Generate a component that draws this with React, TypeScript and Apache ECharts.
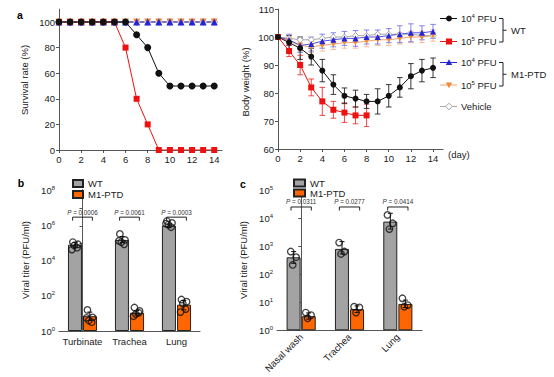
import { useEffect, useRef } from 'react';
import * as echarts from 'echarts';

const FONT = '"Liberation Sans", Arial, Helvetica, sans-serif';
const TXT = '#1a1a1a';
const AX = '#444';

// ---------- Panel a (left): survival ----------
const days = [0, 1, 2, 3, 4, 5, 6, 7, 8, 9, 10, 11, 12, 13, 14];
const dayTicks = [0, 2, 4, 6, 8, 10, 12, 14];
const survTicks = [0, 20, 40, 60, 80, 100];
const survWT4 = [100, 100, 100, 100, 100, 100, 100, 90, 80, 60, 50, 50, 50, 50, 50];
const survWT5 = [100, 100, 100, 100, 100, 100, 80, 40, 20, 0, 0, 0, 0, 0, 0];
const survM14 = [100, 100, 100, 100, 100, 100, 100, 100, 100, 100, 100, 100, 100, 100, 100];
const survM15 = [100, 100, 100, 100, 100, 100, 100, 100, 100, 100, 100, 100, 100, 100, 100];
const survVeh = [100, 100, 100, 100, 100, 100, 100, 100, 100, 100, 100, 100, 100, 100, 100];

// ---------- Panel a (right): body weight ----------
const bwWT4 = [100, 98, 96, 93, 88, 83, 79, 78, 77, 77, 79, 82, 86, 88, 89];
const bwWT4Err = [0, 2.5, 4, 3, 4, 3.5, 2.8, 3, 2.5, 4.5, 4, 3.5, 4.5, 4, 3.5];
const bwWT5 = [100, 95, 90, 82, 77, 74, 73, 72, 72];
const bwWT5Err = [0, 2, 3.5, 3, 5, 3, 3.5, 3, 4];
const bwM14 = [100, 99, 97, 97.5, 98.5, 99, 99.5, 99.5, 100, 100, 100.5, 101, 101.5, 101.5, 102];
const bwM14Err = [0, 2, 2.5, 2.5, 2.5, 2.5, 2.5, 2.8, 2.5, 2.5, 2.5, 3, 3.2, 2.5, 2.5];
const bwM15 = [100, 98.5, 97, 96.5, 97, 97.5, 98, 98, 98.5, 99, 99, 99.5, 100, 100, 100.5];
const bwM15Err = [0, 1.5, 2, 2, 2, 2, 2, 2, 2, 2, 2, 2, 2, 2, 2];
const bwVeh = [100, 99.5, 99, 99, 99.5, 100, 100, 100.5, 100.5, 101, 101, 101, 101, 100.5, 100.5];

// ---------- Panel b ----------
const bCats = ['Turbinate', 'Trachea', 'Lung'];
const bWT = [85000, 160000, 1050000];
const bWTLo = [60000, 115000, 800000];
const bWTHi = [115000, 250000, 1300000];
const bM1 = [7, 11, 32];
const bM1Lo = [4, 8, 16];
const bM1Hi = [12, 15, 55];
const bWTPts = [
  [120000, 90000, 78000, 58000, 45000],
  [350000, 160000, 120000, 90000, 140000],
  [1900000, 1500000, 1200000, 850000, 1350000],
];
const bM1Pts = [
  [16, 6, 4, 3.2, 5.6],
  [22, 14, 9.3, 11, 7],
  [63, 47, 37, 18, 12],
];
const bP = ['0.0006', '0.0061', '0.0003'];
const bBracket = 3200000;
const bMax = 120000000;
const bLabelVals = [1, 100, 10000, 1000000, 100000000];
const bTickVals = [1, 10, 100, 1000, 10000, 100000, 1000000, 10000000, 100000000];

// ---------- Panel c ----------
const cCats = ['Nasal wash', 'Trachea', 'Lung'];
const cWT = [410, 820, 7800];
const cWTLo = [250, 540, 4200];
const cWTHi = [660, 1500, 15500];
const cM1 = [3.2, 5.7, 8.8];
const cM1Lo = [2.5, 4.3, 6.5];
const cM1Hi = [4.2, 7.5, 12];
const cWTPts = [
  [660, 415, 220],
  [1380, 660, 540],
  [13500, 6800, 4200],
];
const cM1Pts = [
  [4.3, 3.5, 2.7],
  [7, 6.6, 4.3],
  [14, 8, 7],
];
const cP = ['0.0311', '0.0277', '0.0414'];
const cBracket = 26000;
const cMax = 110000;
const cTickVals = [1, 10, 100, 1000, 10000, 100000];

const jit5 = [-0.05, 0.06, -0.02, 0.04, -0.07];
const jit3 = [-0.06, 0.05, -0.02];
const OFF = 0.155;

const pairs = (ys: number[]) => ys.map((y, i) => [days[i], y]);
const errData = (ys: number[], es: number[]) =>
  ys.map((y, i) => [days[i], y - es[i], y + es[i]]).filter((_d, i) => es[i] > 0);

const errRender = (color: string, cap: number, lw: number) => (_p: any, api: any) => {
  const x = api.value(0);
  const lo = api.coord([x, api.value(1)]);
  const hi = api.coord([x, api.value(2)]);
  const st = { stroke: color, lineWidth: lw };
  return {
    type: 'group',
    children: [
      { type: 'line', shape: { x1: lo[0], y1: lo[1], x2: hi[0], y2: hi[1] }, style: st },
      { type: 'line', shape: { x1: hi[0] - cap, y1: hi[1], x2: hi[0] + cap, y2: hi[1] }, style: st },
      { type: 'line', shape: { x1: lo[0] - cap, y1: lo[1], x2: lo[0] + cap, y2: lo[1] }, style: st },
    ],
  };
};

const bracketRender = (pvals: string[]) => (params: any, api: any) => {
  const i = api.value(0);
  const a = api.coord([i - 0.21, api.value(1)]);
  const b = api.coord([i + 0.21, api.value(1)]);
  return {
    type: 'group',
    children: [
      {
        type: 'polyline',
        shape: { points: [[a[0], a[1] + 3.5], [a[0], a[1]], [b[0], b[1]], [b[0], b[1] + 3.5]] },
        style: { stroke: '#222', lineWidth: 1, fill: 'none' },
      },
      {
        type: 'text',
        x: (a[0] + b[0]) / 2,
        y: a[1] - 2,
        style: {
          text: '{i|P} = ' + pvals[params.dataIndex],
          rich: { i: { fontStyle: 'italic', fontSize: 6.3, fontFamily: FONT, fill: '#333' } },
          fontSize: 6.3,
          fontFamily: FONT,
          fill: '#333',
          align: 'center',
          verticalAlign: 'bottom',
        },
      },
    ],
  };
};

const supRich = { s: { fontSize: 6, lineHeight: 6, verticalAlign: 'top', fontFamily: FONT, color: TXT } };
const logFmt = (v: number) => '10{s|' + Math.round(Math.log10(v)) + '}';

const axLine = { show: true, lineStyle: { color: AX, width: 0.9 } };
const axTick = { show: true, length: 3, lineStyle: { color: AX, width: 0.9 } };
const axLabel = { color: TXT, fontSize: 9.5, fontFamily: FONT, margin: 4 };

export default function App() {
  const ref = useRef<HTMLDivElement>(null);
  useEffect(() => {
    if (!ref.current) return;
    const chart = echarts.init(ref.current, undefined, { renderer: 'svg' });

    const dayLines = (data: number[], name: string, color: string, symbol: string, size: number, rotate = 0, xi = 0, lineColor?: string, fill?: string) => ({
      type: 'line',
      name,
      xAxisIndex: xi,
      yAxisIndex: xi,
      data: pairs(data),
      symbol,
      symbolSize: size,
      symbolRotate: rotate,
      showAllSymbol: true,
      lineStyle: { color: lineColor || color, width: 1 },
      itemStyle: fill ? { color: fill, borderColor: color, borderWidth: 1 } : { color, borderWidth: 0 },
      emphasis: { disabled: true },
      z: 3,
    });

    const errSeries = (ys: number[], es: number[], color: string) => ({
      type: 'custom',
      xAxisIndex: 1,
      yAxisIndex: 1,
      data: errData(ys, es),
      renderItem: errRender(color, 2.8, 0.9),
      z: 2,
      silent: true,
    });

    const barSeries = (name: string, data: number[], color: string, xi: number, yi: number) => ({
      type: 'bar',
      name,
      xAxisIndex: xi,
      yAxisIndex: yi,
      data,
      barWidth: 14,
      barGap: '8%',
      itemStyle: { color, borderColor: '#222', borderWidth: 1 },
      emphasis: { disabled: true },
      z: 2,
    });

    const barErr = (lo: number[], hi: number[], off: number, xi: number, yi: number) => ({
      type: 'custom',
      xAxisIndex: xi,
      yAxisIndex: yi,
      data: lo.map((l, i) => [i + off, l, hi[i]]),
      renderItem: errRender('#111', 2.5, 1),
      z: 3,
      silent: true,
    });

    const pts = (vals: number[][], off: number, jit: number[], xi: number, yi: number) => ({
      type: 'scatter',
      xAxisIndex: xi,
      yAxisIndex: yi,
      data: vals.flatMap((row, i) => row.map((v, k) => [i + off + jit[k], v])),
      symbol: 'circle',
      symbolSize: 6.5,
      itemStyle: { color: 'rgba(0,0,0,0)', borderColor: '#111', borderWidth: 1.3 },
      emphasis: { disabled: true },
      z: 4,
      silent: true,
    });

    const brackets = (pv: string[], level: number, xi: number, yi: number) => ({
      type: 'custom',
      xAxisIndex: xi,
      yAxisIndex: yi,
      data: pv.map((_p, i) => [i, level]),
      renderItem: bracketRender(pv),
      z: 5,
      silent: true,
    });

    // legend graphic for panel a right
    const LX = 440;
    const rowsY = [18.5, 41.5, 62.5, 85, 106.5];
    const legColors = ['#111', '#ee1111', '#2424d8', '#f2a46c', '#a8a8a8'];
    const marker = (k: number, y: number): any => {
      const cx = LX + 9;
      const c = legColors[k];
      if (k === 0) return { type: 'circle', shape: { cx, cy: y, r: 3 }, style: { fill: c } };
      if (k === 1) return { type: 'rect', shape: { x: cx - 3, y: y - 3, width: 6, height: 6 }, style: { fill: c } };
      if (k === 2) return { type: 'polygon', shape: { points: [[cx, y - 3.2], [cx + 3.2, y + 2.4], [cx - 3.2, y + 2.4]] }, style: { fill: c } };
      if (k === 3) return { type: 'polygon', shape: { points: [[cx, y + 3.2], [cx + 3.2, y - 2.4], [cx - 3.2, y - 2.4]] }, style: { fill: '#f08a3c' } };
      return { type: 'polygon', shape: { points: [[cx, y - 3.3], [cx + 3.3, y], [cx, y + 3.3], [cx - 3.3, y]] }, style: { fill: '#fff', stroke: c, lineWidth: 1 } };
    };
    const legTexts = ['10{s|4} PFU', '10{s|5} PFU', '10{s|4} PFU', '10{s|5} PFU', 'Vehicle'];
    const legendEls: any[] = [];
    rowsY.forEach((y, k) => {
      legendEls.push({ type: 'line', shape: { x1: LX, y1: y, x2: LX + 17, y2: y }, style: { stroke: legColors[k], lineWidth: 1 } });
      legendEls.push(marker(k, y));
      legendEls.push({
        type: 'text', x: LX + 21, y,
        style: { text: legTexts[k], rich: supRich, fontSize: 9.5, lineHeight: 11, fontFamily: FONT, fill: TXT, align: 'left', verticalAlign: 'middle' },
      });
    });
    const bracketEl = (y1: number, y2: number, label: string): any[] => {
      const bx = 503;
      return [
        { type: 'polyline', shape: { points: [[bx - 4, y1], [bx, y1], [bx, y2], [bx - 4, y2]] }, style: { stroke: '#222', lineWidth: 1, fill: 'none' } },
        { type: 'line', shape: { x1: bx, y1: (y1 + y2) / 2, x2: bx + 3.5, y2: (y1 + y2) / 2 }, style: { stroke: '#222', lineWidth: 1 } },
        { type: 'text', x: bx + 8, y: (y1 + y2) / 2, style: { text: label, fontSize: 9.5, fontFamily: FONT, fill: TXT, align: 'left', verticalAlign: 'middle' } },
      ];
    };
    legendEls.push(...bracketEl(18.5, 42, 'WT'));
    legendEls.push(...bracketEl(62.5, 86, 'M1-PTD'));

    const vText = (x: number, y: number, text: string) => ({
      type: 'text', x, y, rotation: Math.PI / 2,
      style: { text, fontSize: 9.5, fontFamily: FONT, fill: TXT, align: 'center', verticalAlign: 'middle' },
    });
    const letter = (x: number, y: number, text: string) => ({
      type: 'text', x, y,
      style: { text, fontSize: 10.5, fontWeight: 'bold', fontFamily: FONT, fill: '#000', align: 'center', verticalAlign: 'middle' },
    });

    const option: any = {
      animation: false,
      backgroundColor: '#fff',
      textStyle: { fontFamily: FONT },
      grid: [
        { left: 59, top: 9.2, width: 163, height: 140.8 },
        { left: 278, top: 9, width: 165, height: 140 },
        { left: 59, top: 189.6, width: 141, height: 141.4 },
        { left: 277, top: 189.5, width: 145, height: 140.8 },
      ],
      xAxis: [
        {
          type: 'value', gridIndex: 0, min: 0, max: 14.7,
          axisLine: axLine, axisTick: { ...axTick, customValues: dayTicks },
          axisLabel: { ...axLabel, customValues: dayTicks }, splitLine: { show: false },
        },
        {
          type: 'value', gridIndex: 1, min: 0, max: 14.9,
          axisLine: axLine, axisTick: { ...axTick, customValues: dayTicks },
          axisLabel: { ...axLabel, customValues: dayTicks }, splitLine: { show: false },
        },
        {
          type: 'category', gridIndex: 2, data: bCats,
          axisLine: axLine, axisTick: { show: false },
          axisLabel: { ...axLabel, margin: 5, interval: 0 },
        },
        {
          type: 'category', gridIndex: 3, data: cCats,
          axisLine: axLine, axisTick: { show: false },
          axisLabel: { ...axLabel, rotate: 45, margin: 5, interval: 0 },
        },
        { type: 'value', gridIndex: 2, min: -0.5, max: 2.5, show: false },
        { type: 'value', gridIndex: 3, min: -0.5, max: 2.5, show: false },
      ],
      yAxis: [
        {
          type: 'value', gridIndex: 0, min: 0, max: 110,
          axisLine: axLine, axisTick: { ...axTick, customValues: survTicks },
          axisLabel: { ...axLabel, customValues: survTicks }, splitLine: { show: false },
        },
        {
          type: 'value', gridIndex: 1, min: 60, max: 110, interval: 10,
          axisLine: axLine, axisTick: axTick, axisLabel: { ...axLabel, showMaxLabel: true }, splitLine: { show: false },
        },
        {
          type: 'log', logBase: 10, gridIndex: 2, min: 1, max: bMax,
          axisLine: axLine, axisTick: { ...axTick, customValues: bTickVals },
          axisLabel: { ...axLabel, customValues: bLabelVals, formatter: logFmt, rich: supRich, lineHeight: 11 },
          splitLine: { show: false },
        },
        {
          type: 'log', logBase: 10, gridIndex: 3, min: 1, max: cMax,
          axisLine: axLine, axisTick: { ...axTick, customValues: cTickVals },
          axisLabel: { ...axLabel, customValues: cTickVals, formatter: logFmt, rich: supRich, lineHeight: 11 },
          splitLine: { show: false },
        },
      ],
      legend: [
        {
          data: ['WT', 'M1-PTD'], left: 72, top: 178.5, orient: 'vertical', padding: 0,
          itemWidth: 10, itemHeight: 7, itemGap: 1, icon: 'rect', selectedMode: false,
          textStyle: { fontSize: 9.5, fontFamily: FONT, color: TXT, lineHeight: 10 },
        },
        {
          data: ['WT', 'M1-PTD'], left: 293, top: 178, orient: 'vertical', padding: 0,
          itemWidth: 11, itemHeight: 7, itemGap: 0, icon: 'rect', selectedMode: false,
          textStyle: { fontSize: 9.5, fontFamily: FONT, color: TXT, lineHeight: 10 },
        },
      ],
      graphic: [
        ...legendEls,
        { type: 'text', x: 448, y: 154, style: { text: '(day)', fontSize: 9.5, fontFamily: FONT, fill: TXT, align: 'left', verticalAlign: 'middle' } },
        vText(24, 80, 'Survival rate (%)'),
        vText(245, 82, 'Body weight (%)'),
        vText(25, 260, 'Viral titer (PFU/ml)'),
        vText(243, 260, 'Viral titer (PFU/ml)'),
        letter(20, 15, 'a'),
        letter(21, 183, 'b'),
        letter(243, 184, 'c'),
      ],
      series: [
        // survival
        dayLines(survVeh, 'Vehicle', '#a8a8a8', 'diamond', 7, 0, 0, '#a8a8a8', '#fff'),
        dayLines(survM15, 'M1 10^5', '#f08a3c', 'triangle', 7, 180, 0, '#f2a46c'),
        dayLines(survM14, 'M1 10^4', '#2424d8', 'triangle', 7, 0, 0),
        dayLines(survWT5, 'WT 10^5', '#ee1111', 'rect', 6, 0, 0),
        dayLines(survWT4, 'WT 10^4', '#111', 'circle', 7, 0, 0),
        // body weight
        errSeries(bwM15, bwM15Err, '#f5b48a'),
        errSeries(bwM14, bwM14Err, '#7676ee'),
        errSeries(bwWT5, bwWT5Err, '#ee3333'),
        errSeries(bwWT4, bwWT4Err, '#222'),
        dayLines(bwVeh, 'Vehicle', '#a8a8a8', 'diamond', 6, 0, 1, '#a8a8a8', '#fff'),
        dayLines(bwM15, 'M1 10^5', '#f08a3c', 'triangle', 6, 180, 1, '#f2a46c'),
        dayLines(bwM14, 'M1 10^4', '#2424d8', 'triangle', 6, 0, 1, '#5050e0'),
        dayLines(bwWT5, 'WT 10^5', '#ee1111', 'rect', 6, 0, 1),
        dayLines(bwWT4, 'WT 10^4', '#111', 'circle', 6, 0, 1),
        // panel b
        barSeries('WT', bWT, '#a3a3a3', 2, 2),
        barSeries('M1-PTD', bM1, '#ff6600', 2, 2),
        barErr(bWTLo, bWTHi, -OFF, 4, 2),
        barErr(bM1Lo, bM1Hi, OFF, 4, 2),
        pts(bWTPts, -OFF, jit5, 4, 2),
        pts(bM1Pts, OFF, jit5, 4, 2),
        brackets(bP, bBracket, 4, 2),
        // panel c
        barSeries('WT', cWT, '#a3a3a3', 3, 3),
        barSeries('M1-PTD', cM1, '#ff6600', 3, 3),
        barErr(cWTLo, cWTHi, -OFF, 5, 3),
        barErr(cM1Lo, cM1Hi, OFF, 5, 3),
        pts(cWTPts, -OFF, jit3, 5, 3),
        pts(cM1Pts, OFF, jit3, 5, 3),
        brackets(cP, cBracket, 5, 3),
      ],
    };
    chart.setOption(option);
    return () => chart.dispose();
  }, []);
  return <div ref={ref} style={{ position: 'fixed', left: 0, top: 0, width: 554, height: 377, background: '#fff' }} />;
}
